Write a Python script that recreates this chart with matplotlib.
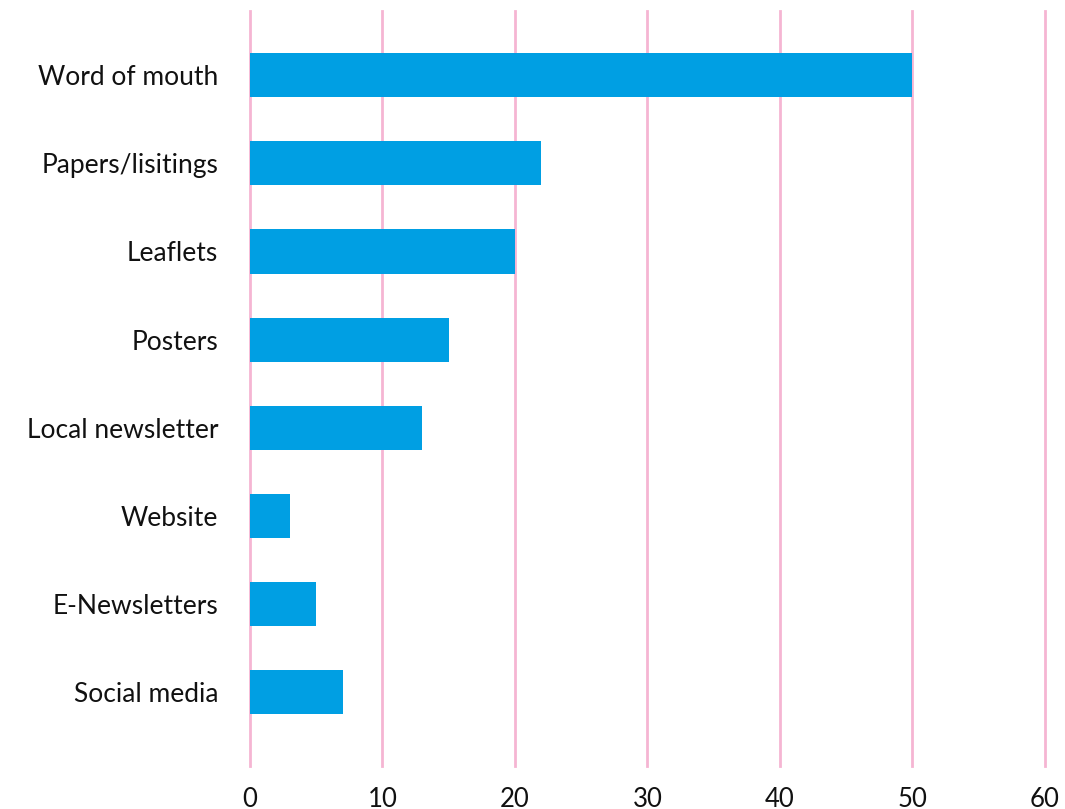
import matplotlib.pyplot as plt

plt.rcParams['font.family'] = ['Lato', 'DejaVu Sans']

categories = ['Word of mouth', 'Papers/lisitings', 'Leaflets', 'Posters',
              'Local newsletter', 'Website', 'E-Newsletters', 'Social media']
values = [50, 22, 20, 15, 13, 3, 5, 7]
x_ticks = [0, 10, 20, 30, 40, 50, 60]

bar_color = '#009FE3'
grid_color = '#F5B5D3'

fig = plt.figure(figsize=(10.65, 8.09), dpi=100)
ax = fig.add_axes([0.2347, 0.0532, 0.7465, 0.9332])

positions = list(range(len(categories)))
ax.barh(positions, values, height=0.5, color=bar_color, zorder=3)

ax.set_xlim(0, 60)
ax.set_ylim(len(categories) - 1 + 0.84, -0.73)
ax.set_yticks(positions)
ax.set_yticklabels(categories, fontsize=19, color='#111111')
ax.set_xticks(x_ticks)
ax.set_xticklabels([str(t) for t in x_ticks], fontsize=18.5, color='#111111')

# pink vertical gridlines, including the zero line
for t in x_ticks:
    ax.axvline(t, color=grid_color, linewidth=2, zorder=1, clip_on=False)

for side in ax.spines.values():
    side.set_visible(False)
ax.tick_params(axis='y', length=0, pad=23)
ax.tick_params(axis='x', length=0, pad=15)

fig.savefig('out.png', dpi=100)
